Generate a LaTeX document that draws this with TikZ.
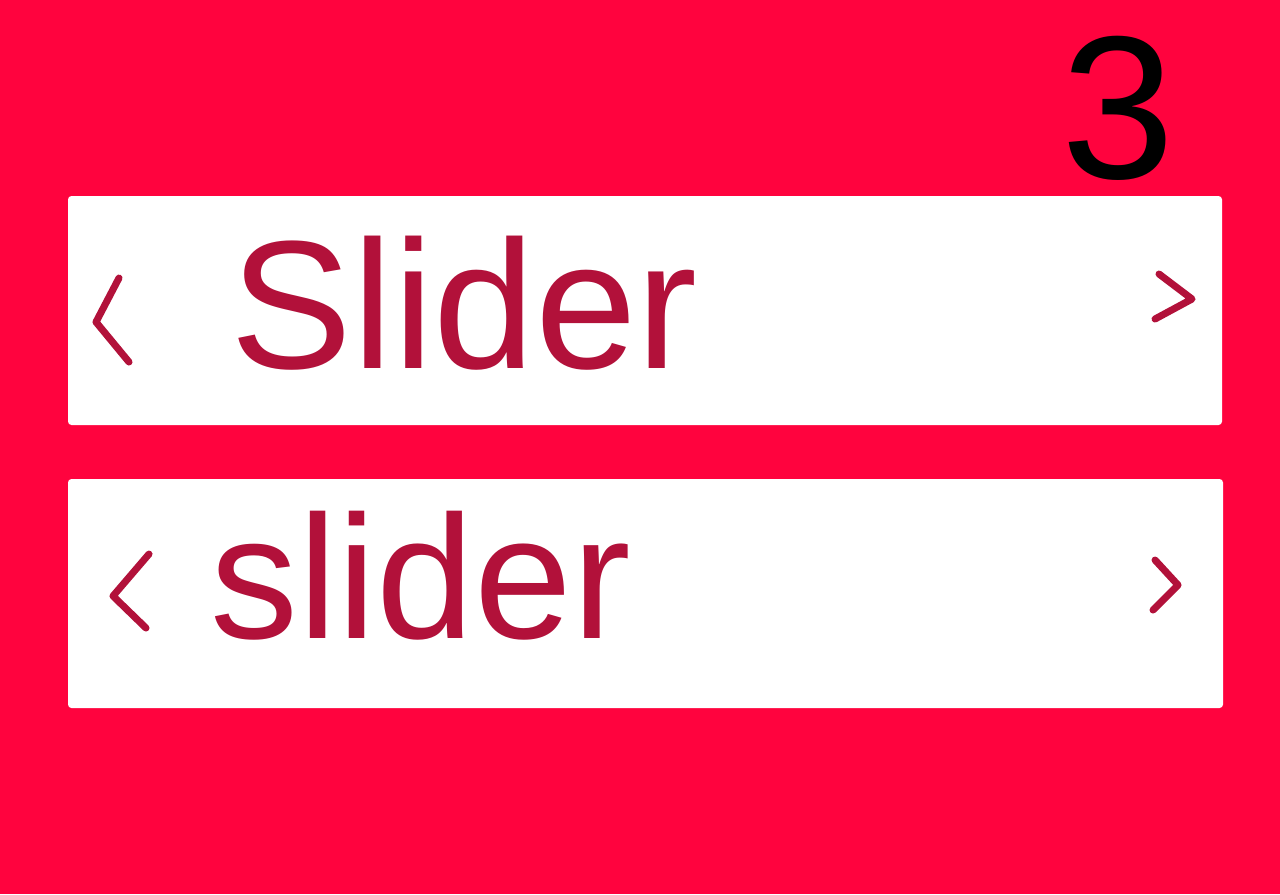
\documentclass[tikz,border=0pt]{standalone}
\usepackage{fontspec}
\setmainfont{Liberation Sans}
\usepackage{xcolor}
\definecolor{poppy}{HTML}{FF033E}
\definecolor{crimson}{HTML}{B2113A}
\tikzset{slidebar/.style={fill=white,rounded corners=1pt},pen/.style={draw=crimson,line width=2pt,line cap=round,line join=round},scribble/.style={text=crimson,inner sep=0pt,font=\fontsize{#1}{#1}\selectfont},scribble/.default=52}

\begin{document}
\begin{tikzpicture}
\fill[poppy] (0,0) rectangle (12.8,-8.94);
\useasboundingbox (0,0) rectangle (12.8,-8.94);
% page number
\node[inner sep=0pt,anchor=base,font=\fontsize{58}{58}\selectfont] (pagenum) at (11.18,-1.78) {3};
% two slider bars
\fill[slidebar] (0.68,-1.96) rectangle (12.22,-4.25);
\fill[slidebar] (0.68,-4.79) rectangle (12.23,-7.08);
\node[scribble,anchor=base west] (labelone) at (2.30,-3.68) {Slider};
\node[scribble=50,anchor=base west] (labeltwo) at (2.10,-6.38) {slider};
% arrows
\draw[pen] (1.19,-2.78)--(0.96,-3.22)--(1.29,-3.62);
\draw[pen] (11.59,-2.74)--(11.92,-2.99)--(11.55,-3.19);
\draw[pen] (1.49,-5.54)--(1.13,-5.96)--(1.46,-6.28);
\draw[pen] (11.55,-5.60)--(11.78,-5.85)--(11.53,-6.10);
\end{tikzpicture}
\end{document}
